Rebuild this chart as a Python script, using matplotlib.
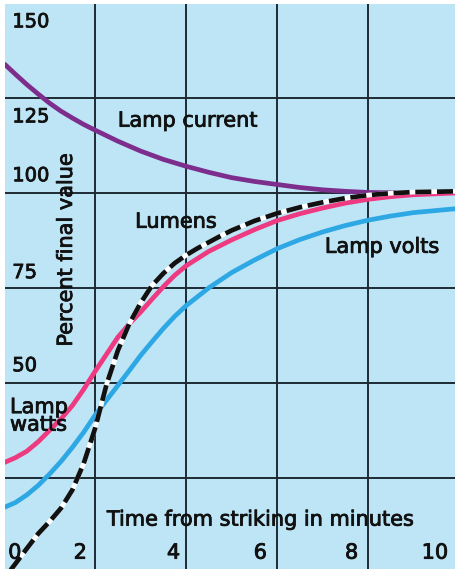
#!/usr/bin/env python3
"""Lamp warm-up curves: percent of final value vs. time from striking."""

import matplotlib
matplotlib.use('Agg')
import matplotlib.pyplot as plt
import matplotlib.patheffects as pe

# Data
current_t = [0, 0.25, 0.5, 0.75, 1, 1.25, 1.5, 1.75, 2, 2.5, 3, 3.5, 4, 4.5, 5,
             5.5, 6, 6.5, 7, 7.5, 8, 8.6]
current_v = [134, 131.2, 128.5, 126, 123.6, 121.5, 119.7, 118, 116.5, 113.6, 111,
             108.8, 107, 105.4, 104, 103, 102.2, 101.4, 100.8, 100.4, 100.1, 100]

lumens_t = [0, 0.25, 0.5, 0.75, 1, 1.25, 1.5, 1.75, 2, 2.25, 2.5, 2.75, 3, 3.25,
            3.5, 3.75, 4, 4.25, 4.5, 4.75, 5, 5.5, 6, 6.5, 7, 7.5, 8, 8.5, 9, 10]
lumens_v = [-1.5, 2.4, 6.4, 10.3, 13.5, 17, 21.8, 28.8, 38, 49.5, 58.5, 65.5, 71,
            75.6, 78.8, 81.5, 83.6, 85.4, 87, 88.6, 90.1, 92.6, 94.6, 96.2, 97.5,
            98.6, 99.4, 99.9, 100.2, 100.4]

watts_t = [0, 0.25, 0.5, 0.75, 1, 1.25, 1.5, 1.75, 2, 2.25, 2.5, 2.75, 3, 3.25,
           3.5, 3.75, 4, 4.5, 5, 5.5, 6, 6.5, 7, 7.5, 8, 8.5, 9, 10]
watts_v = [29, 30.3, 32, 34.5, 37.5, 40.5, 44, 48.3, 53, 57.5, 62, 65.5, 68.6, 72,
           75.3, 78.3, 80.8, 84.6, 87.6, 90.3, 92.7, 94.5, 96, 97.3, 98.3, 99,
           99.5, 100]

volts_t = [0, 0.25, 0.5, 0.75, 1, 1.25, 1.5, 1.75, 2, 2.25, 2.5, 2.75, 3, 3.25,
           3.5, 3.75, 4, 4.5, 5, 5.5, 6, 6.5, 7, 7.5, 8, 8.5, 9, 10]
volts_v = [17.2, 18.5, 20.5, 23, 26, 29.3, 33, 37, 41.5, 45.4, 49.3, 53.2, 57.2,
           60.8, 64.3, 67.5, 70.3, 75, 79, 82.3, 85.3, 87.7, 89.7, 91.4, 92.8,
           93.9, 94.8, 95.9]

x_ticks = [0, 2, 4, 6, 8, 10]
y_ticks = [50, 75, 100, 125, 150]
grid_x = [2, 4, 6, 8]
grid_y = [25, 50, 75, 100, 125]

BG = '#bde5f6'
GRID = '#1c2a33'
TEXT = '#111111'

plt.rcParams['font.family'] = ['DejaVu Sans']
# slightly heavier lettering, like the printed original
heavy = [pe.withStroke(linewidth=0.6, foreground=TEXT)]

fig = plt.figure(figsize=(4.55, 5.69), dpi=100)
fig.patch.set_facecolor('white')
ax = fig.add_axes([5 / 455, 0, 450 / 455, 565 / 569])
ax.set_facecolor(BG)
ax.set_xlim(0.02, 9.91)
ax.set_ylim(1.0, 149.7)
for s in ax.spines.values():
    s.set_visible(False)
ax.set_xticks([])
ax.set_yticks([])

# grid
for gx in grid_x:
    ax.axvline(gx, color=GRID, lw=1.4, zorder=1)
for gy in grid_y:
    ax.axhline(gy, color=GRID, lw=1.4, zorder=1)

# curves
ax.plot(current_t, current_v, color='#7d2e8c', lw=3.4, solid_capstyle='butt',
        solid_joinstyle='round', zorder=3)
ax.plot(volts_t, volts_v, color='#2ea8e4', lw=3.4, solid_joinstyle='round', zorder=3)
ax.plot(watts_t, watts_v, color='#ee3a80', lw=3.4, solid_joinstyle='round', zorder=4)
ax.plot(lumens_t, lumens_v, color='white', lw=3.4, solid_joinstyle='round', zorder=4.5)
ax.plot(lumens_t, lumens_v, color='#111111', lw=3.4, dashes=(3.4, 1.2),
        dash_capstyle='butt', dash_joinstyle='round', zorder=5)

# curve labels
kw = dict(fontsize=15, color=TEXT, zorder=6, path_effects=heavy)
ax.text(2.5, 119, 'Lamp current', ha='left', va='center', **kw)
ax.text(2.88, 92.4, 'Lumens', ha='left', va='center', **kw)
ax.text(7.05, 85.8, 'Lamp volts', ha='left', va='center', **kw)
ax.text(0.13, 41.3, 'Lamp\nwatts', ha='left', va='center', linespacing=0.85, **kw)
ax.text(2.26, 14, 'Time from striking in minutes', ha='left', va='center', **kw)
ax.text(1.36, 85, 'Percent final value', rotation=90, ha='center', va='center', **kw)

# tick labels drawn inside the plot
x_label_pos = [0.09, 1.82, 3.87, 5.78, 7.78, 9.76]
for val, pos in zip(x_ticks, x_label_pos):
    ax.text(pos, 5.3, str(val), ha='left' if val == 0 else 'right', va='center', **kw)
y_label_pos = [54.5, 79, 104.5, 120, 145]
for val, pos in zip(y_ticks, y_label_pos):
    ax.text(0.18, pos, str(val), fontsize=14, color=TEXT, ha='left', va='center',
            zorder=6, path_effects=heavy)

fig.savefig('out.png', dpi=100, facecolor=fig.get_facecolor())
